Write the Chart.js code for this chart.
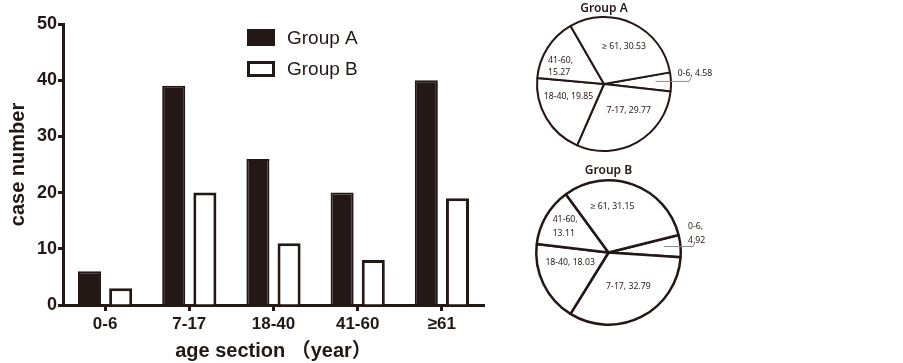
<!DOCTYPE html>
<html>
<head>
<meta charset="utf-8">
<script src="https://cdn.jsdelivr.net/npm/chart.js@4.4.1/dist/chart.umd.min.js"></script>
<style>
  html, body { margin: 0; padding: 0; background: #ffffff; }
  #wrap { position: relative; width: 903px; height: 363px; overflow: hidden; background: #fff; }
  .cv { position: absolute; }
</style>
</head>
<body>
<div id="wrap">
  <div class="cv" style="left:0;top:0;width:520px;height:363px;"><canvas id="bar"></canvas></div>
  <div class="cv" style="left:520px;top:0;width:200px;height:152px;"><canvas id="pieA"></canvas></div>
  <div class="cv" style="left:520px;top:160px;width:200px;height:166px;"><canvas id="pieB"></canvas></div>
</div>
<script>
// ---------- data ----------
const categories = ['0-6', '7-17', '18-40', '41-60', '≥61'];
const groupA = [6, 39, 26, 20, 40];
const groupB = [3, 20, 11, 8, 19];
const yTicks = [0, 10, 20, 30, 40, 50];
const pieCategories = ['0-6', '7-17', '18-40', '41-60', '≥ 61'];
const pieA = [4.58, 29.77, 19.85, 15.27, 30.53];
const pieB = [4.92, 32.79, 18.03, 13.11, 31.15];
const seriesNames = ['Group A', 'Group B'];

// ---------- styles ----------
const DARK = '#231815';
const TICKFONT = { family: 'Arial, "Liberation Sans", sans-serif', size: 18, weight: 'bold' };

Chart.defaults.animation = false;
Chart.defaults.color = DARK;

// legend plugin for bar chart
const barLegend = {
  id: 'barLegend',
  afterDraw(chart) {
    const ctx = chart.ctx;
    ctx.save();
    const rows = [{ y: 29, h: 17 }, { y: 61, h: 16 }];
    chart.data.datasets.forEach((ds, i) => {
      const r = rows[i];
      const x = 247, w = 28;
      if (i === 0) {
        ctx.fillStyle = ds.backgroundColor;
        ctx.fillRect(x, r.y, w, r.h);
      } else {
        ctx.fillStyle = '#fff';
        ctx.fillRect(x, r.y, w, r.h);
        ctx.strokeStyle = ds.borderColor;
        ctx.lineWidth = 3;
        ctx.strokeRect(x + 1.5, r.y + 1.5, w - 3, r.h - 3);
      }
      ctx.fillStyle = DARK;
      ctx.font = '19px Arial, "Liberation Sans", sans-serif';
      ctx.textBaseline = 'middle';
      ctx.textAlign = 'left';
      ctx.fillText(ds.label, 287, r.y + r.h / 2 + 1);
    });
    ctx.restore();
  }
};

new Chart(document.getElementById('bar'), {
  type: 'bar',
  data: {
    labels: categories,
    datasets: [
      { label: seriesNames[0], data: groupA, backgroundColor: DARK, borderColor: DARK, borderWidth: 2,
        categoryPercentage: 0.74, barPercentage: 0.74 },
      { label: seriesNames[1], data: groupB, backgroundColor: '#ffffff', borderColor: DARK, borderWidth: 3,
        categoryPercentage: 0.74, barPercentage: 0.74 }
    ]
  },
  options: {
    responsive: true,
    maintainAspectRatio: false,
    layout: { padding: { left: 0, top: 24, right: 36, bottom: 0 } },
    plugins: { legend: { display: false }, tooltip: { enabled: false } },
    scales: {
      x: {
        grid: { display: true, drawOnChartArea: false, drawTicks: true, tickLength: 6, tickWidth: 3, tickColor: DARK, offset: false },
        border: { display: true, color: DARK, width: 3 },
        ticks: { font: { family: 'Arial, "Liberation Sans", sans-serif', size: 17, weight: 'bold' }, color: DARK, padding: 3, maxRotation: 0 },
        title: { display: true, text: 'age section （year）', color: DARK,
                 font: { family: 'Arial, "Liberation Sans", "Noto Sans CJK SC", sans-serif', size: 20, weight: 'bold' },
                 padding: { top: 0, bottom: 0 } },
        afterFit(s) { s.height = 58; }
      },
      y: {
        min: 0, max: 50,
        afterBuildTicks(s) { s.ticks = yTicks.map(v => ({ value: v })); },
        grid: { display: true, drawOnChartArea: false, drawTicks: true, tickLength: 5, tickWidth: 3, tickColor: DARK },
        border: { display: true, color: DARK, width: 3 },
        ticks: { font: TICKFONT, color: DARK, padding: 1 },
        title: { display: true, text: 'case number', color: DARK,
                 font: { family: 'Arial, "Liberation Sans", sans-serif', size: 20, weight: 'bold' },
                 padding: { top: 6, bottom: 0 } },
        afterFit(s) { s.width = 63; }
      }
    }
  },
  plugins: [barLegend]
});

// pie label + title plugin
const pieLabels = {
  id: 'pieLabels',
  afterDraw(chart, args, opts) {
    const ctx = chart.ctx;
    const meta = chart.getDatasetMeta(0);
    const vals = chart.data.datasets[0].data;
    ctx.save();
    // title
    const a0 = meta.data[0];
    ctx.fillStyle = DARK;
    ctx.font = '600 12px "Noto Sans", sans-serif';
    ctx.textAlign = 'center';
    ctx.textBaseline = 'middle';
    ctx.fillText(opts.title, a0.x, a0.y - a0.outerRadius - opts.titleGap);

    ctx.font = '8.7px "Noto Sans", sans-serif';
    meta.data.forEach((arc, i) => {
      const cx = arc.x, cy = arc.y, r = arc.outerRadius;
      const txt = chart.data.labels[i] + ', ' + vals[i];
      const lines = opts.wrap.includes(i) ? [chart.data.labels[i] + ',', String(vals[i])] : [txt];
      const lh = opts.lineGap;
      const place = opts.place[i];
      if (place === 'out') {
        const mid = (arc.startAngle + arc.endAngle) / 2;
        const sx = cx + Math.cos(mid) * r * 0.77;
        const sy = cy + Math.sin(mid) * r * 0.77 - 1;
        const ex = cx + r * opts.leaderEnd;
        ctx.strokeStyle = '#8a8a8a';
        ctx.lineWidth = 1;
        ctx.beginPath();
        ctx.moveTo(sx, sy);
        ctx.lineTo(ex, sy);
        ctx.lineTo(ex + 2, sy - 4);
        ctx.stroke();
        const tx = cx + r * 1.1;
        ctx.textAlign = 'left';
        lines.forEach((ln, k) => {
          ctx.fillText(ln, tx, sy - opts.outGap - (lines.length - 1 - k) * lh);
        });
      } else {
        const a = place[0] * Math.PI / 180;
        const px = cx + Math.cos(a) * r * place[1];
        const py = cy + Math.sin(a) * r * place[1];
        const w = Math.max(...lines.map(l => ctx.measureText(l).width));
        ctx.textAlign = 'left';
        lines.forEach((ln, k) => {
          ctx.fillText(ln, px - w / 2, py + (k - (lines.length - 1) / 2) * lh);
        });
      }
    });
    ctx.restore();
  }
};

function makePie(id, values, title, rotation, bw, pad, place, wrap, leaderEnd, outGap, lineGap, titleGap) {
  new Chart(document.getElementById(id), {
    type: 'pie',
    data: {
      labels: pieCategories,
      datasets: [{ data: values, backgroundColor: '#ffffff', borderColor: DARK, borderWidth: bw, hoverOffset: 0 }]
    },
    options: {
      responsive: true,
      maintainAspectRatio: false,
      rotation: rotation,
      layout: { padding: pad },
      plugins: {
        legend: { display: false },
        tooltip: { enabled: false },
        title: { display: false },
        pieLabels: { title, place, wrap, lineGap, leaderEnd, outGap, titleGap }
      }
    },
    plugins: [pieLabels]
  });
}

makePie('pieA', pieA, seriesNames[0], 80, 2, { left: 0, right: 32, top: 16, bottom: 0 },
  ['out', [47, 0.54], [161, 0.56], [202, 0.7], [298, 0.64]], [3], 1.27, 8, 12, 8);
makePie('pieB', pieB, seriesNames[1], 76, 2.5, { left: 15, right: 38, top: 19, bottom: 0 },
  ['out', [60, 0.55], [165, 0.55], [211, 0.7], [275, 0.64]], [0, 3], 1.17, 6, 14, 10);
</script>
</body>
</html>
